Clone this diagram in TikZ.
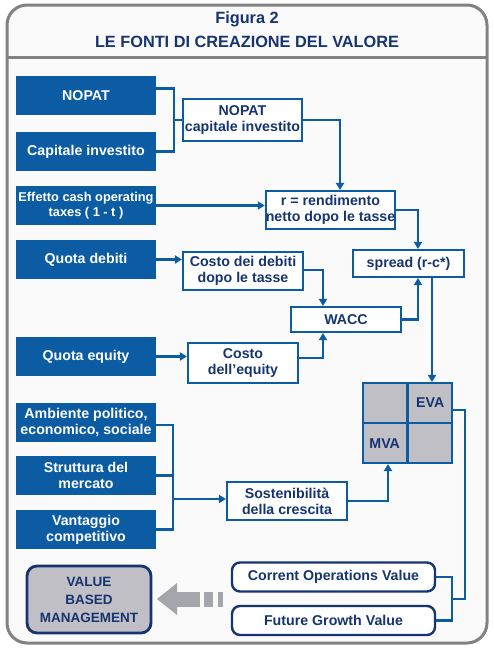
\documentclass[tikz,border=0pt]{standalone}
\usepackage{fontspec}
\setmainfont{Liberation Sans}
\usetikzlibrary{arrows.meta,calc,positioning}

\definecolor{boxblue}{RGB}{12,92,164}
\definecolor{navy}{RGB}{22,52,112}
\definecolor{cellgray}{RGB}{192,191,197}
\definecolor{framegray}{RGB}{130,130,130}
\definecolor{arrowgray}{RGB}{165,165,172}

\tikzset{
  basefont/.style={font=\bfseries\fontsize{14.2}{16}\selectfont},
  inbox/.style={basefont, fill=boxblue, text=white, align=center,
    minimum width=140pt, minimum height=39pt, inner sep=0pt},
  calcbox/.style={basefont, draw=boxblue, line width=2.1pt, fill=white,
    text=navy, align=center, inner sep=0pt},
  valbox/.style={basefont, draw=navy, line width=2.4pt, rounded corners=8pt,
    fill=white, text=navy, align=center, inner sep=0pt,
    minimum width=203pt, minimum height=29pt},
  link/.style={draw=boxblue, line width=2.1pt},
  arr/.style={link, -{Triangle[length=7pt,width=8pt]}},
}

\begin{document}
\begin{tikzpicture}[x=1pt,y=-1pt]
    \useasboundingbox (0,0) rectangle (494,648);

    % Frame and title
    \draw[framegray, line width=3pt, rounded corners=20pt, fill={rgb,255:red,250;green,250;blue,250}]
      (7,5) rectangle (487,643);
    \draw[framegray, line width=3pt] (7,57) -- (487,57);
    \node[font=\bfseries\fontsize{16.3}{18}\selectfont, text=navy] (fig) at (247,19) {Figura 2};
    \node[font=\bfseries\fontsize{16.3}{18}\selectfont, text=navy] (title) at (247,42) {LE FONTI DI CREAZIONE DEL VALORE};

    % Input boxes
    \node[inbox] (nopat) at (86,95.5) {NOPAT};
    \node[inbox] (capinv) at (86,151.5) {Capitale investito};
    \node[inbox, font=\bfseries\fontsize{12.8}{15.5}\selectfont] (effetto) at (86,205.5) {Effetto cash operating\\taxes ( 1 - t )};
    \node[inbox] (qdebiti) at (86,259.5) {Quota debiti};
    \node[inbox] (qequity) at (86,356.5) {Quota equity};
    \node[inbox] (ambiente) at (86,422.5) {Ambiente politico,\\economico, sociale};
    \node[inbox] (struttura) at (86,475.5) {Struttura del\\mercato};
    \node[inbox] (vantaggio) at (86,529.5) {Vantaggio\\competitivo};

    % Calculation boxes
    \node[calcbox, minimum width=119pt, minimum height=42pt] (ratio) at (242.5,120) {NOPAT\\capitale investito};
    \node[calcbox, minimum width=129pt, minimum height=38pt] (rend) at (330.5,210) {r = rendimento\\netto dopo le tasse};
    \node[calcbox, minimum width=111pt, minimum height=27pt] (spread) at (408.5,263.5) {spread (r-c*)};
    \node[calcbox, minimum width=120pt, minimum height=38pt] (cdebiti) at (243,271) {Costo dei debiti\\dopo le tasse};
    \node[calcbox, minimum width=110pt, minimum height=25pt] (wacc) at (346,319.5) {WACC};
    \node[calcbox, minimum width=110pt, minimum height=40pt] (cequity) at (243,363) {Costo\\dell’equity};
    \node[calcbox, minimum width=120pt, minimum height=38pt] (sost) at (287,501) {Sostenibilità\\della crescita};

    % EVA / MVA grid
    \node[draw=boxblue, line width=2.1pt, fill=cellgray, minimum width=89pt, minimum height=80pt, inner sep=0pt] (grid) at (407.5,423) {};
    \draw[boxblue, line width=2.1pt] (grid.north) -- (grid.south);
    \draw[boxblue, line width=2.1pt] (grid.west) -- (grid.east);
    \node[basefont, text=navy] (eva) at ($(grid.center)!0.5!(grid.north east)$) {EVA};
    \node[basefont, text=navy] (mva) at ($(grid.center)!0.5!(grid.south west)$) {MVA};

    % Value boxes
    \node[valbox] (curops) at (333.5,577) {Corrent Operations Value};
    \node[valbox] (futgr) at (333.5,620.5) {Future Growth Value};
    \node[font=\bfseries\fontsize{13.5}{16}\selectfont, draw=navy, line width=2.8pt, rounded corners=10pt, fill=cellgray, text=navy,
      align=center, minimum width=124pt, minimum height=67pt, inner sep=0pt] (vbm) at (89,599.5)
      {VALUE\\[2pt]BASED\\[2pt]MANAGEMENT};

    % Gray arrow
    \fill[arrowgray] (157,599) -- (177,583) -- (177,615) -- cycle;
    \fill[arrowgray] (176,592) rectangle (200,607);
    \fill[arrowgray] (204,592) rectangle (213,607);
    \fill[arrowgray] (218,592) rectangle (223,607);

    % Junctions
    \coordinate (j1) at (174,120);
    \coordinate (j2) at (173,499);
    \coordinate (j3) at (465,599);
    \coordinate (j4) at (452,599);

    % Connectors
    \draw[link] ([yshift=7pt]nopat.east) -| (j1) |- (capinv.east);
    \draw[link] (j1) -- (ratio.west);
    \draw[arr] (ratio.east) -| ([xshift=9.5pt]rend.north);
    \draw[arr] (effetto.east) -- (effetto.east -| rend.west);
    \draw[arr] (rend.east) -| ([xshift=9.5pt]spread.north);
    \draw[arr] (qdebiti.east) -- (qdebiti.east -| cdebiti.west);
    \draw[arr] ([yshift=1pt]cdebiti.east) -| ([xshift=-23pt]wacc.north);
    \draw[arr] (qequity.east) -- (qequity.east -| cequity.west);
    \draw[arr] ([yshift=5pt]cequity.east) -| ([xshift=-23pt]wacc.south);
    \draw[arr] (wacc.east) -| ([xshift=9.5pt]spread.south);
    \draw[arr] ([xshift=23.5pt]spread.south) -- ([xshift=23.5pt]spread.south |- grid.north);
    \draw[link] ([yshift=-2.5pt]ambiente.east) -| (j2 |- vantaggio.east) -- (vantaggio.east);
    \draw[link] (struttura.east) -- (struttura.east -| j2);
    \draw[arr] (j2) -- (j2 -| sost.west);
    \draw[arr] (sost.east) -| ([xshift=-19.5pt]grid.south);
    \draw[link] ([yshift=13pt]grid.east) -| (j3) -- (j4);
    \draw[link] (curops.east) -| (j4) |- (futgr.east);
\end{tikzpicture}
\end{document}
